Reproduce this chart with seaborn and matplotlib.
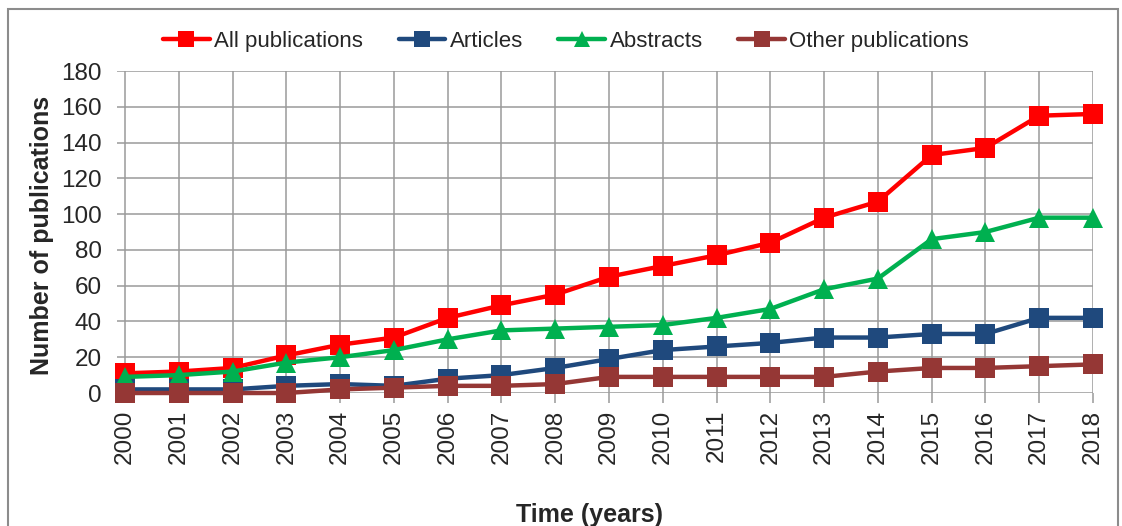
import pandas as pd
import seaborn as sns
import matplotlib.pyplot as plt
from matplotlib.patches import Rectangle
from matplotlib.lines import Line2D

anos = [2000, 2001, 2002, 2003, 2004, 2005, 2006, 2007, 2008, 2009,
        2010, 2011, 2012, 2013, 2014, 2015, 2016, 2017, 2018]
todas = [11, 12, 14, 21, 27, 31, 42, 49, 55, 65, 71, 77, 84, 98, 107, 133, 137, 155, 156]
artigos = [2, 2, 2, 4, 5, 4, 8, 10, 14, 19, 24, 26, 28, 31, 31, 33, 33, 42, 42]
resumos = [9, 10, 12, 17, 20, 24, 30, 35, 36, 37, 38, 42, 47, 58, 64, 86, 90, 98, 98]
outras = [0, 0, 0, 0, 2, 3, 4, 4, 5, 9, 9, 9, 9, 9, 12, 14, 14, 15, 16]

series = ['All publications', 'Articles', 'Abstracts', 'Other publications']
cores = ['#FF0000', '#1F497D', '#00B050', '#953735']
marcadores = ['s', 's', '^', 's']

dados = pd.DataFrame({
    'Ano': anos * 4,
    'Valor': todas + artigos + resumos + outras,
    'Serie': [s for s in series for _ in anos],
})

sns.set_style('white')
plt.rcParams['font.family'] = ['Liberation Sans', 'DejaVu Sans']

fig = plt.figure(figsize=(11.22, 5.26), dpi=100)
ax = fig.add_axes([117 / 1122, 1 - 393 / 526, (1093 - 117) / 1122, (393 - 71) / 526])

for s, c, m in zip(series, cores, marcadores):
    sns.lineplot(data=dados[dados['Serie'] == s], x='Ano', y='Valor', color=c,
                 marker=m, markersize=15 if m == '^' else 14, markeredgewidth=0,
                 linewidth=3.2, ax=ax, clip_on=False, legend=False)

ax.set_xlim(1999.85, 2018)
ax.set_ylim(0, 180)
ax.set_xticks(anos)
ax.set_xticklabels([str(a) for a in anos], rotation=90)
ax.set_yticks(range(0, 181, 20))
ax.grid(True, color='#9a9a9a', linewidth=1.1)
ax.set_axisbelow(True)
for sp in ax.spines.values():
    sp.set_visible(False)
ax.tick_params(axis='x', length=7, width=1.1, color='#9a9a9a', direction='out',
               pad=5, labelsize=17.5, bottom=True)
ax.tick_params(axis='y', length=0, pad=11, labelsize=17.5)
ax.set_xlabel('')
ax.set_ylabel('')

fig.text(590 / 1122, 1 - 515 / 526, 'Time (years)', fontsize=18, fontweight='bold',
         ha='center', va='center')
fig.text(42 / 1122, 1 - 235 / 526, 'Number of publications', fontsize=18,
         fontweight='bold', rotation=90, ha='center', va='center')

handles = [Line2D([], [], color=c, marker=m, markersize=11, markeredgewidth=0, linewidth=3.2)
           for c, m in zip(cores, marcadores)]
fig.legend(handles, series, loc='center', bbox_to_anchor=(566 / 1122, 1 - 41 / 526),
           ncol=4, frameon=False, fontsize=16, handlelength=2.1, handletextpad=0.2,
           columnspacing=1.6)

borda = Rectangle((8 / 1122, -0.05), (1118 - 8) / 1122, 1 - 9 / 526 + 0.05,
                  transform=fig.transFigure, fill=False, edgecolor='#8c8c8c', linewidth=1.5)
fig.patches.append(borda)

fig.savefig('out.png', dpi=100)
